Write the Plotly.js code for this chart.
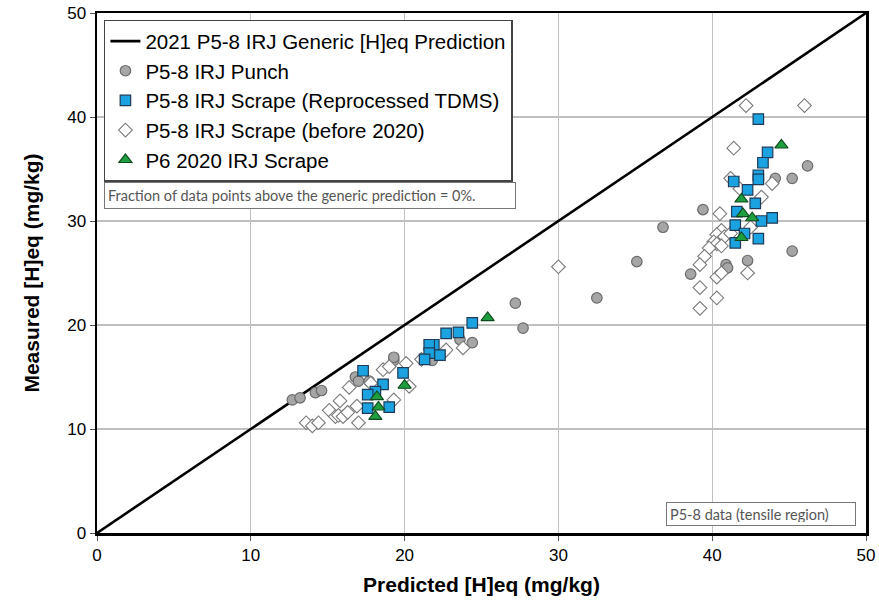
<!DOCTYPE html>
<html>
<head>
<meta charset="utf-8">
<script src="https://cdn.plot.ly/plotly-3.0.1.min.js"></script>
<style>html,body{margin:0;padding:0;background:#fff;}#chart{width:879px;height:604px;}</style>
</head>
<body>
<div id="chart"></div>
<script>
// Generic prediction line (y = x)
const lineX = [0, 50];
const lineY = [0, 50];

// P5-8 IRJ Punch
const punchX = [12.7,13.2,14.2,14.6,16.8,17.0,17.7,19.3,19.3,21.8,23.6,24.4,27.2,27.7,32.5,35.1,36.8,38.6,39.4,40.9,41.0,42.3,44.1,45.2,45.2,46.2];
const punchY = [12.8,13.0,13.5,13.7,15.0,14.6,14.6,16.6,16.9,16.6,18.6,18.3,22.1,19.7,22.6,26.1,29.4,24.9,31.1,25.8,25.5,26.2,34.1,34.1,27.1,35.3];

// P5-8 IRJ Scrape (Reprocessed TDMS)
const tdmsX = [17.3,18.6,18.1,17.6,17.6,19.0,19.9,24.4,23.5,22.7,21.9,21.6,21.6,21.3,22.3,43.0,43.6,43.3,43.0,43.0,41.4,42.3,42.8,41.6,41.5,42.1,41.5,43.0,43.2,43.9];
const tdmsY = [15.6,14.3,13.6,13.3,12.0,12.1,15.4,20.2,19.3,19.2,18.1,18.1,17.3,16.7,17.1,39.8,36.6,35.6,34.4,34.0,33.8,33.0,31.7,30.9,29.6,28.8,27.9,28.3,30.0,30.3];

// P5-8 IRJ Scrape (before 2020)
const oldX = [18.6,19.0,20.1,16.4,17.8,15.8,15.1,15.5,15.7,16.0,16.3,16.9,17.0,13.6,14.0,14.4,19.3,20.3,21.1,22.5,22.7,23.8,30.0,
              42.2,46.0,41.4,41.2,41.8,43.9,43.2,40.5,40.6,40.3,40.8,40.1,40.3,40.6,39.8,39.5,39.2,40.3,40.6,39.2,40.3,39.2,42.3,41.2,42.5];
const oldY = [15.7,16.0,16.3,14.0,14.4,12.7,11.8,11.2,11.3,11.2,11.6,12.2,10.6,10.6,10.3,10.6,12.8,14.1,16.7,17.3,17.6,17.8,25.6,
              41.1,41.1,37.0,34.1,33.1,33.6,32.3,30.7,29.1,28.7,28.5,28.0,27.8,27.6,27.4,26.6,25.8,24.6,25.0,23.6,22.6,21.6,25.0,28.8,29.4];

// P6 2020 IRJ Scrape
const p6X = [20.0,18.2,18.3,18.1,25.4,44.5,41.9,42.0,42.6,41.9];
const p6Y = [14.2,13.1,12.1,11.2,20.7,37.3,32.1,30.7,30.3,28.4];

const traces = [
  {x: lineX, y: lineY, mode: 'lines', name: '2021 P5-8 IRJ Generic [H]eq Prediction',
   line: {color: '#000', width: 2.6}, legendrank: 1},
  {x: punchX, y: punchY, mode: 'markers', name: 'P5-8 IRJ Punch', legendrank: 2,
   marker: {symbol: 'circle', size: 10.5, color: '#a6a6a6', line: {color: '#6b6b6b', width: 1.2}}},
  {x: oldX, y: oldY, mode: 'markers', name: 'P5-8 IRJ Scrape (before 2020)', legendrank: 4,
   marker: {symbol: 'diamond', size: 10.5, color: '#ffffff', line: {color: '#7a7a7a', width: 1.1}}},
  {x: tdmsX, y: tdmsY, mode: 'markers', name: 'P5-8 IRJ Scrape (Reprocessed TDMS)', legendrank: 3,
   marker: {symbol: 'square', size: 10.5, color: '#1aa3e0', line: {color: '#1f3b57', width: 1.2}}},
  {x: p6X, y: p6Y, mode: 'markers', name: 'P6 2020 IRJ Scrape', legendrank: 5,
   marker: {symbol: 'triangle-up', size: 11.5, color: '#1f9e3f', line: {color: '#0f4a1e', width: 1.1}}}
];

const fontFam = 'Liberation Sans, Arial, sans-serif';
const boxFont = {size: 14.5, family: 'Lato, Open Sans, sans-serif', color: '#555'};
const layout = {
  width: 879, height: 604,
  margin: {l: 97, r: 13, t: 13, b: 71},
  paper_bgcolor: '#fff', plot_bgcolor: '#fff',
  font: {family: fontFam, color: '#000'},
  showlegend: true,
  legend: {
    x: 0.009, y: 0.987, xanchor: 'left', yanchor: 'top',
    bgcolor: '#fff', bordercolor: '#444', borderwidth: 1.5,
    font: {size: 20.5, family: fontFam, color: '#000'},
    itemwidth: 30
  },
  xaxis: {
    range: [0, 50], dtick: 10, tick0: 0, autorange: false,
    showgrid: true, gridcolor: '#c0c0c0', gridwidth: 1.2,
    zeroline: false, showline: true, linecolor: '#000', linewidth: 2.5, mirror: true,
    ticks: 'outside', ticklen: 5, tickcolor: '#555',
    tickfont: {size: 17, family: fontFam, color: '#000'},
    title: {text: '<b>Predicted [H]eq (mg/kg)</b>', font: {size: 21, family: fontFam}, standoff: 14}
  },
  yaxis: {
    range: [0, 50], dtick: 10, tick0: 0, autorange: false,
    showgrid: true, gridcolor: '#c0c0c0', gridwidth: 1.2,
    zeroline: false, showline: true, linecolor: '#000', linewidth: 2.5, mirror: true,
    ticks: 'outside', ticklen: 5, tickcolor: '#555',
    tickfont: {size: 17, family: fontFam, color: '#000'},
    title: {text: '<b>Measured [H]eq (mg/kg)</b>', font: {size: 21, family: fontFam}, standoff: 22}
  },
  annotations: [
    {xref: 'paper', yref: 'paper', x: 0.009, y: 0.675, xanchor: 'left', yanchor: 'top',
     text: 'Fraction of data points above the generic prediction = 0%.', showarrow: false,
     font: boxFont, align: 'left', width: 404, height: 19, borderpad: 3,
     bordercolor: '#777', borderwidth: 1, bgcolor: '#fff'},
    {xref: 'paper', yref: 'paper', x: 0.987, y: 0.0135, xanchor: 'right', yanchor: 'bottom',
     text: 'P5-8 data (tensile region)', showarrow: false,
     font: boxFont, align: 'left', width: 182, height: 16, borderpad: 3,
     bordercolor: '#777', borderwidth: 1, bgcolor: '#fff'}
  ]
};

Plotly.newPlot('chart', traces, layout, {displayModeBar: false, staticPlot: true});
</script>
</body>
</html>
